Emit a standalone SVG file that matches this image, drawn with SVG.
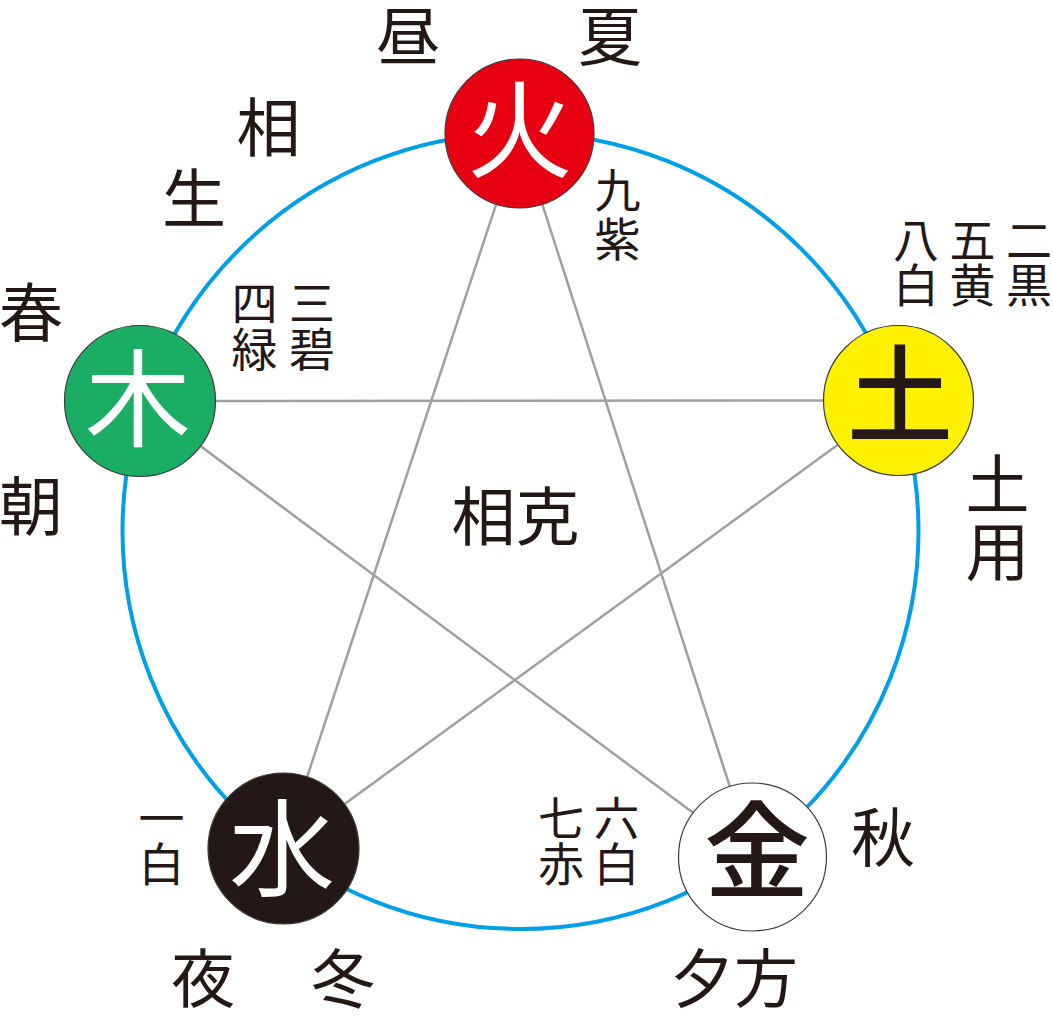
<svg xmlns="http://www.w3.org/2000/svg" width="1053" height="1024" viewBox="0 0 1053 1024">
<style>
.t{font-family:"Noto Sans CJK JP","Noto Sans CJK SC",sans-serif;fill:#231815;text-anchor:middle}
.big{font-size:64px}
.sm{font-size:46px}
.node{stroke:#3e3a39;stroke-width:1.2}
.nt{font-family:"Noto Sans CJK JP","Noto Sans CJK SC",sans-serif;font-size:106px;text-anchor:middle}
.ln{stroke:#a0a0a0;stroke-width:2.5;fill:none}
</style>
<rect width="1053" height="1024" fill="#ffffff"/>
<g id="connectors">
<circle cx="520.5" cy="531" r="398" fill="none" stroke="#00a0e9" stroke-width="4"/>
<line class="ln" x1="519.5" y1="133.5" x2="283.5" y2="848.5"/>
<line class="ln" x1="519.5" y1="133.5" x2="752.5" y2="857"/>
<line class="ln" x1="140" y1="401" x2="898.5" y2="400.5"/>
<line class="ln" x1="140" y1="401" x2="752.5" y2="857"/>
<line class="ln" x1="898.5" y1="400.5" x2="283.5" y2="848.5"/>
</g>
<g id="fire">
<circle class="node" cx="519.5" cy="133.5" r="74.5" fill="#e60012"/>
<text class="nt" x="520" y="169" fill="#ffffff">火</text>
</g>
<g id="earth">
<circle class="node" cx="898.5" cy="400.5" r="75" fill="#fff100"/>
<text class="nt" x="900" y="434" fill="#231815" font-weight="500">土</text>
</g>
<g id="wood">
<circle class="node" cx="140" cy="401" r="75.5" fill="#19ae63"/>
<text class="nt" x="138" y="438" fill="#ffffff">木</text>
</g>
<g id="water">
<circle class="node" cx="283.5" cy="848.5" r="75.5" fill="#231815"/>
<text class="nt" x="282" y="888" fill="#ffffff">水</text>
</g>
<g id="metal">
<circle class="node" cx="752.5" cy="857" r="74" fill="#ffffff"/>
<text class="nt" x="757" y="890" fill="#231815" font-weight="500">金</text>
</g>
<g id="labels">
<text class="t big" x="408" y="60">昼</text>
<text class="t big" x="610" y="60">夏</text>
<text class="t big" x="268.5" y="151">相</text>
<text class="t big" x="194" y="222">生</text>
<text class="t big" x="31" y="336">春</text>
<text class="t big" x="31" y="530">朝</text>
<text class="t big" x="515.5" y="540">相克</text>
<text class="t big" x="997.5" y="508">土</text>
<text class="t big" x="997.5" y="575">用</text>
<text class="t big" x="883" y="861">秋</text>
<text class="t big" x="203" y="1002">夜</text>
<text class="t big" x="343" y="1002">冬</text>
<text class="t big" x="734" y="1002">夕方</text>
<text class="t sm" x="617.5" y="207">九</text>
<text class="t sm" x="617.5" y="256">紫</text>
<text class="t sm" x="916" y="257">八</text>
<text class="t sm" x="916" y="302">白</text>
<text class="t sm" x="972.5" y="257">五</text>
<text class="t sm" x="972.5" y="302">黄</text>
<text class="t sm" x="1029" y="257">二</text>
<text class="t sm" x="1029" y="302">黒</text>
<text class="t sm" x="254.5" y="320">四</text>
<text class="t sm" x="254.5" y="366">緑</text>
<text class="t sm" x="312" y="320">三</text>
<text class="t sm" x="312" y="366">碧</text>
<text class="t sm" x="161.5" y="835">一</text>
<text class="t sm" x="161.5" y="881">白</text>
<text class="t sm" x="561" y="835">七</text>
<text class="t sm" x="561" y="881">赤</text>
<text class="t sm" x="616.5" y="835">六</text>
<text class="t sm" x="616.5" y="881">白</text>
</g>
</svg>
